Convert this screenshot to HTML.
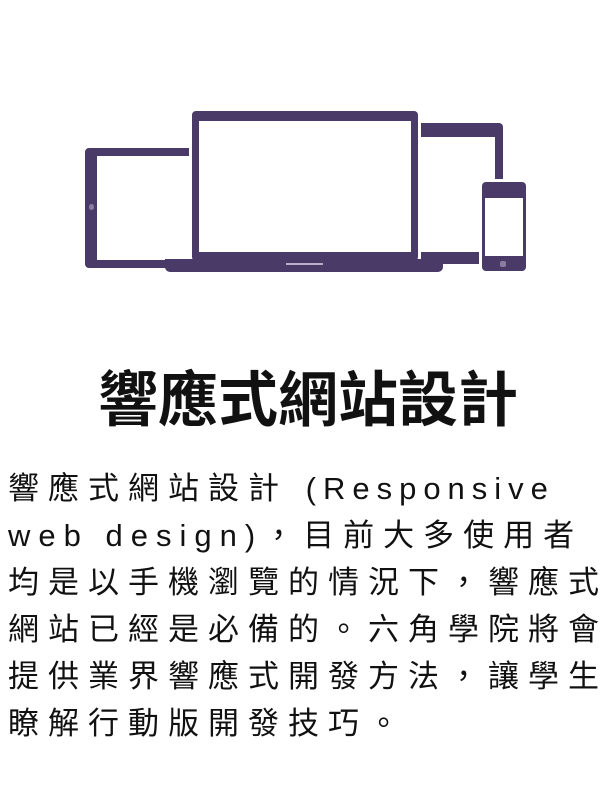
<!DOCTYPE html>
<html><head><meta charset="utf-8"><style>
html,body{margin:0;padding:0;background:#fff;}
body{width:616px;height:800px;position:relative;overflow:hidden;}
.d{position:absolute;background:#4a3a68;}
.w{position:absolute;background:#fff;}
h1{position:absolute;left:0;width:616px;top:366px;margin:0;text-align:center;font:bold 60px/70px "Liberation Sans","Noto Sans CJK TC",sans-serif;color:#111;letter-spacing:0px;}
.p{position:absolute;left:8px;top:465px;font:31px/47px "Liberation Sans","Noto Sans CJK TC",sans-serif;letter-spacing:9px;color:#111;white-space:nowrap;}
.l{letter-spacing:7px;}
.m{letter-spacing:8px;}
</style></head><body>
<!-- left tablet -->
<div class="d" style="left:85px;top:148px;width:110px;height:120px;border-radius:4px"></div>
<div class="w" style="left:97px;top:156px;width:96px;height:104px"></div>
<div class="w" style="left:89px;top:204px;width:5px;height:6px;border-radius:3px;background:#8a7ca0"></div>
<!-- right tablet -->
<div class="d" style="left:416px;top:123px;width:87px;height:141px;border-radius:4px"></div>
<div class="w" style="left:416px;top:137px;width:79px;height:115px"></div>
<!-- laptop -->
<div class="w" style="left:189px;top:108px;width:232px;height:152px"></div>
<div class="d" style="left:192px;top:111px;width:226px;height:150px;border-radius:4px"></div>
<div class="w" style="left:199px;top:121px;width:212px;height:131px"></div>
<div class="d" style="left:165px;top:259px;width:278px;height:13px;border-radius:0 0 5px 5px"></div>
<div class="w" style="left:286px;top:263px;width:37px;height:2px;background:#b8b0c8"></div>
<!-- phone -->
<div class="w" style="left:479px;top:179px;width:50px;height:95px;border-radius:5px"></div>
<div class="d" style="left:482px;top:182px;width:44px;height:89px;border-radius:4px"></div>
<div class="w" style="left:485px;top:198px;width:38px;height:58px"></div>
<div class="w" style="left:500px;top:261px;width:6px;height:6px;border-radius:2px;background:#8a7ca0"></div>
<h1>響應式網站設計</h1>
<div class="p">響應式網站設計 <span class="l">(Responsive</span><br><span class="m">web design)</span>，目前大多使用者<br>均是以手機瀏覽的情況下，響應式<br>網站已經是必備的。六角學院將會<br>提供業界響應式開發方法，讓學生<br>瞭解行動版開發技巧。</div>
</body></html>
